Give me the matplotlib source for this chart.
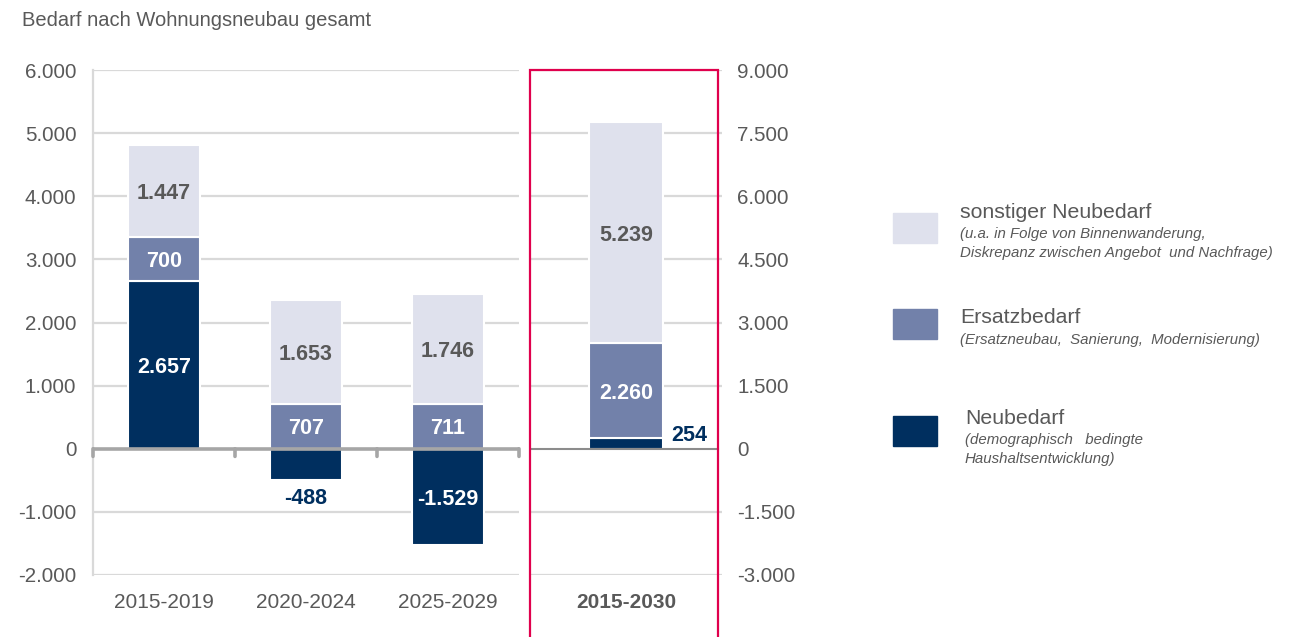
import matplotlib
matplotlib.use("Agg")
import matplotlib.pyplot as plt
from matplotlib.patches import Rectangle

plt.rcParams['font.family'] = ['Liberation Sans', 'DejaVu Sans']

# ---------------- data ----------------
periods = ["2015-2019", "2020-2024", "2025-2029"]
neubedarf = [2657, -488, -1529]
ersatzbedarf = [700, 707, 711]
sonstiger = [1447, 1653, 1746]

total_period = "2015-2030"
total_neubedarf = 254
total_ersatz = 2260
total_sonstiger = 5239

left_ticks = [-2000, -1000, 0, 1000, 2000, 3000, 4000, 5000, 6000]
right_ticks = [-3000, -1500, 0, 1500, 3000, 4500, 6000, 7500, 9000]

title = "Bedarf nach Wohnungsneubau gesamt"
legend_items = [
    ("sonstiger Neubedarf", "(u.a. in Folge von Binnenwanderung,\nDiskrepanz zwischen Angebot  und Nachfrage)"),
    ("Ersatzbedarf", "(Ersatzneubau,  Sanierung,  Modernisierung)"),
    ("Neubedarf", "(demographisch   bedingte\nHaushaltsentwicklung)"),
]

# ---------------- style ----------------
C_NAVY = "#002f5f"
C_MID = "#7281aa"
C_LIGHT = "#dfe1ed"
C_TEXT = "#595959"
C_GRID = "#d9d9d9"
C_ZERO = "#a6a6a6"
C_RED = "#e0004d"

FS_TICK = 14.8
FS_CAT = 15
FS_LBL = 15.5

W, H = 1305, 637
fig = plt.figure(figsize=(W / 100, H / 100), dpi=100)

def fx(px):
    return px / W

def fy(py):
    return 1 - py / H

top_px, bot_px = 70, 575
ax1 = fig.add_axes([fx(93), fy(bot_px), fx(519) - fx(93), fy(top_px) - fy(bot_px)])
ax2 = fig.add_axes([fx(530), fy(bot_px), fx(722) - fx(530), fy(top_px) - fy(bot_px)])


def fmt(v):
    s = f"{abs(v):,}".replace(",", ".")
    return ("-" if v < 0 else "") + s


for ax in (ax1, ax2):
    for sp in ax.spines.values():
        sp.set_visible(False)
    ax.set_facecolor("none")

# ---------- left axes ----------
ax1.set_ylim(left_ticks[0], left_ticks[-1])
ax1.set_xlim(-0.5, len(periods) - 0.5)
for t in left_ticks:
    if t != 0:
        ax1.axhline(t, color=C_GRID, lw=1.6, zorder=0)
ax1.spines['left'].set_visible(True)
ax1.spines['left'].set_color(C_GRID)
ax1.spines['left'].set_linewidth(1.6)
ax1.set_yticks(left_ticks)
ax1.set_yticklabels([fmt(t) for t in left_ticks], fontsize=FS_TICK, color=C_TEXT)
ax1.tick_params(axis='y', length=0, pad=12)

x = list(range(len(periods)))
bw = 0.51
for i in x:
    n, e, s = neubedarf[i], ersatzbedarf[i], sonstiger[i]
    base = max(n, 0)
    ax1.bar(i, n, bw, color=C_NAVY, edgecolor="white", lw=1.5, zorder=2)
    ax1.bar(i, e, bw, bottom=base, color=C_MID, edgecolor="white", lw=1.5, zorder=2)
    ax1.bar(i, s, bw, bottom=base + e, color=C_LIGHT, edgecolor="white", lw=1.5, zorder=2)
    ax1.text(i, base + e + s / 2, fmt(s), ha="center", va="center_baseline", fontsize=FS_LBL,
             fontweight="bold", color=C_TEXT, zorder=4)
    ax1.text(i, base + e / 2, fmt(e), ha="center", va="center_baseline", fontsize=FS_LBL,
             fontweight="bold", color="white", zorder=4)
    if abs(n) > 1000:
        ax1.text(i, n / 2, fmt(n), ha="center", va="center_baseline", fontsize=FS_LBL,
                 fontweight="bold", color="white", zorder=4)
    else:
        ax1.annotate(fmt(n), (i, n), xytext=(0, -6), textcoords="offset points",
                     ha="center", va="top", fontsize=FS_LBL, fontweight="bold",
                     color=C_NAVY, zorder=4)

# zero line with category separators
ax1.axhline(0, color=C_ZERO, lw=2.6, zorder=3, solid_capstyle="butt")
for b in [-0.5, 0.5, 1.5, 2.5]:
    ax1.annotate("", xy=(b, 0), xytext=(0, -5.5), textcoords="offset points",
                 arrowprops=dict(arrowstyle="-", color=C_ZERO, lw=2.6,
                                 shrinkA=0, shrinkB=0), zorder=3)

ax1.set_xticks(x)
ax1.set_xticklabels(periods, fontsize=FS_CAT, color=C_TEXT)
ax1.tick_params(axis='x', length=0, pad=13)

# ---------- right axes ----------
ax2.set_ylim(right_ticks[0], right_ticks[-1])
ax2.set_xlim(-0.5, 0.5)
for t in right_ticks:
    if t != 0:
        ax2.axhline(t, color=C_GRID, lw=1.6, zorder=0)
ax2.plot([-0.5, 0.48], [0, 0], color="#8c8c8c", lw=1.5, zorder=3)
ax2.yaxis.tick_right()
ax2.set_yticks(right_ticks)
ax2.set_yticklabels([fmt(t) for t in right_ticks], fontsize=FS_TICK, color=C_TEXT)
ax2.tick_params(axis='y', length=0, pad=11)

bw2 = 0.385
ax2.bar(0, total_neubedarf, bw2, color=C_NAVY, edgecolor="white", lw=1.5, zorder=2)
ax2.bar(0, total_ersatz, bw2, bottom=total_neubedarf, color=C_MID, edgecolor="white", lw=1.5, zorder=2)
ax2.bar(0, total_sonstiger, bw2, bottom=total_neubedarf + total_ersatz, color=C_LIGHT,
        edgecolor="white", lw=1.5, zorder=2)
ax2.text(0, total_neubedarf + total_ersatz + total_sonstiger / 2, fmt(total_sonstiger),
         ha="center", va="center_baseline", fontsize=FS_LBL, fontweight="bold", color=C_TEXT, zorder=4)
ax2.text(0, total_neubedarf + total_ersatz / 2, fmt(total_ersatz),
         ha="center", va="center_baseline", fontsize=FS_LBL, fontweight="bold", color="white", zorder=4)
ax2.annotate(fmt(total_neubedarf), (bw2 / 2, total_neubedarf), xytext=(6, 2),
             textcoords="offset points", ha="left", va="center", fontsize=FS_LBL,
             fontweight="bold", color=C_NAVY, zorder=4)
ax2.set_xticks([0])
ax2.set_xticklabels([total_period], fontsize=FS_CAT, color=C_TEXT, fontweight="bold")
ax2.tick_params(axis='x', length=0, pad=13)

# red highlight frame
fig.patches.append(Rectangle((fx(530), fy(700)), fx(718) - fx(530), fy(70) - fy(700),
                             transform=fig.transFigure, fill=False, edgecolor=C_RED,
                             lw=1.6, zorder=10))

# title
fig.text(fx(22), fy(20), title, fontsize=14.5, color=C_TEXT, ha="left", va="center")

# legend
colors = [C_LIGHT, C_MID, C_NAVY]
box_tops = [213, 309, 416]
head_y = [212, 318, 418]
head_x = [960, 960, 965]
for (head, sub), col, bt, hy, hx in zip(legend_items, colors, box_tops, head_y, head_x):
    fig.patches.append(Rectangle((fx(893), fy(bt + 30)), fx(937) - fx(893), fy(bt) - fy(bt + 30),
                                 transform=fig.transFigure, color=col))
    fig.text(fx(hx), fy(hy), head, fontsize=15.3, color=C_TEXT, ha="left", va="center")
    fig.text(fx(hx), fy(hy + 15), sub, fontsize=10.8, color=C_TEXT, ha="left", va="top",
             style="italic", linespacing=1.45)

fig.savefig("out.png", dpi=100)
